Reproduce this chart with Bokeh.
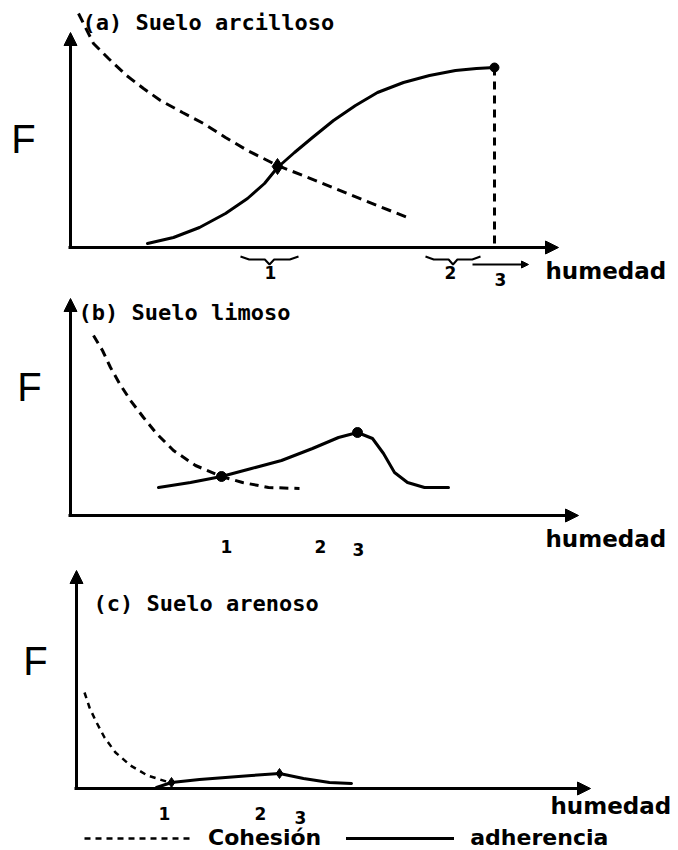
from bokeh.plotting import figure
from bokeh.layouts import column
from bokeh.models import Range1d, Arrow, NormalHead, Legend, LegendItem
from bokeh.core.properties import value
from bokeh.embed import file_html
from bokeh.resources import INLINE

# ---------------- data (humedad, F) in arbitrary units ----------------
# (a) Suelo arcilloso
a_coh_x = [0.2, 0.575, 0.95, 1.4, 1.825, 2.25, 2.8, 3.325, 3.875, 4.425, 5.175, 6.25, 7.35, 8.425]
a_coh_y = [11.7, 10.2, 9.45, 8.6, 7.95, 7.35, 6.75, 6.2, 5.5, 4.85, 4.1, 3.25, 2.35, 1.5]
a_adh_x = [1.925, 2.575, 3.225, 3.875, 4.425, 4.85, 5.175, 5.6, 6.05, 6.575, 7.125, 7.675,
           8.325, 8.975, 9.625, 10.15, 10.6]
a_adh_y = [0.2, 0.5, 1.0, 1.7, 2.45, 3.2, 4.0, 4.75, 5.5, 6.35, 7.1, 7.75,
           8.25, 8.6, 8.85, 8.95, 9.0]
a_cross = (5.175, 4.05)
a_peak = (10.6, 9.0)

# (b) Suelo limoso
b_coh_x = [0.575, 0.8, 1.0, 1.225, 1.5, 1.825, 2.15, 2.575, 3.125, 3.775, 4.3, 4.95, 5.725]
b_coh_y = [9.0, 8.25, 7.4, 6.6, 5.75, 4.9, 4.1, 3.25, 2.5, 1.95, 1.65, 1.4, 1.35]
b_adh_x = [2.2, 3.0, 3.775, 4.525, 5.275, 6.05, 6.7, 7.175, 7.55, 7.825, 8.1, 8.425, 8.85, 9.45]
b_adh_y = [1.4, 1.65, 1.95, 2.35, 2.75, 3.35, 3.9, 4.15, 3.85, 3.1, 2.15, 1.65, 1.4, 1.4]
b_pts_x = [3.775, 7.175]
b_pts_y = [1.95, 4.15]

# (c) Suelo arenoso
c_coh_x = [0.2, 0.325, 0.475, 0.7, 0.975, 1.35, 1.775, 2.325]
c_coh_y = [4.8, 4.05, 3.4, 2.55, 1.8, 1.15, 0.65, 0.3]
c_adh_x = [2.0, 2.375, 3.075, 3.725, 4.375, 5.075, 5.675, 6.325, 6.875]
c_adh_y = [0.05, 0.3, 0.45, 0.55, 0.65, 0.75, 0.5, 0.3, 0.25]
c_pts_x = [2.375, 5.075]
c_pts_y = [0.3, 0.75]

# moisture limits 1, 2, 3 on the humedad axis
a_limits = [5.0, 9.5, 10.75]
b_limits = [3.9, 6.25, 7.2]
c_limits = [2.2, 4.6, 5.6]
limit_labels = ["1", "2", "3"]

titles = ["(a) Suelo arcilloso", "(b) Suelo limoso", "(c) Suelo arenoso"]
x_label = "humedad"
y_label = "F"
legend_labels = ["Cohesión", "adherencia"]

TITLE_FONT = value("DejaVu Sans Mono")
LABEL_FONT = value("DejaVu Sans")


def make_panel(height, xr, yr):
    p = figure(width=678, height=height, x_range=Range1d(*xr), y_range=Range1d(*yr),
               output_backend="svg", toolbar_location=None,
               x_axis_location=None, y_axis_location=None, min_border=0)
    p.grid.visible = False
    p.outline_line_color = None
    p.background_fill_color = "white"
    p.border_fill_color = "white"
    return p


def axes(p, xmax, ymax):
    p.add_layout(Arrow(end=NormalHead(size=13, fill_color="black", line_color="black"),
                       x_start=-0.05, y_start=0, x_end=xmax, y_end=0,
                       line_width=3, line_color="black"))
    p.add_layout(Arrow(end=NormalHead(size=13, fill_color="black", line_color="black"),
                       x_start=0, y_start=-0.05, x_end=0, y_end=ymax,
                       line_width=3, line_color="black"))


def texts(p, title, tx, ty, fx, fy, hx, hy, limits, ly, ly3):
    p.text(x=[tx], y=[ty], text=[title], text_font=TITLE_FONT, text_font_style="bold",
           text_font_size="22px", text_baseline="middle", text_color="black")
    p.text(x=[fx], y=[fy], text=[y_label], text_font=value("Liberation Sans"),
           text_font_size="40px", text_baseline="middle", text_align="center", text_color="black")
    p.text(x=[hx], y=[hy], text=[x_label], text_font=LABEL_FONT, text_font_style="bold",
           text_font_size="23px", text_baseline="middle", text_color="black")
    p.text(x=limits, y=[ly, ly, ly3], text=limit_labels, text_font=LABEL_FONT,
           text_font_style="bold", text_font_size="17px", text_baseline="middle",
           text_align="center", text_color="black")


def brace(p, lo, hi, y):
    w = hi - lo
    mid = (lo + hi) / 2
    xs = [lo, lo + 0.15 * w, mid - 0.08 * w, mid, mid + 0.08 * w, hi - 0.15 * w, hi]
    ys = [y + 0.15, y, y, y - 0.25, y, y, y + 0.15]
    p.line(xs, ys, line_color="black", line_width=2)


SOLID = dict(line_color="black", line_width=3, line_join="round", line_cap="round")

# ---------------- panel (a) ----------------
pa = make_panel(290, (-1.75, 15.2), (-2.15, 12.35))
axes(pa, 12.2, 10.75)
pa.line(a_coh_x, a_coh_y, line_color="black", line_width=3, line_dash="10 6")
pa.line(a_adh_x, a_adh_y, **SOLID)
pa.line([a_peak[0], a_peak[0]], [a_peak[1], 0], line_color="black", line_width=3, line_dash="8 6")
pa.scatter([a_cross[0]], [a_cross[1]], marker="diamond", size=16, color="black")
pa.scatter([a_peak[0]], [a_peak[1]], marker="circle", size=9, color="black")
texts(pa, titles[0], 0.3, 11.25, -1.175, 5.45, 11.875, -1.15, a_limits, -1.25, -1.6)
brace(pa, 4.25, 5.7, -0.6)
brace(pa, 8.875, 10.25, -0.6)
pa.add_layout(Arrow(end=NormalHead(size=7, fill_color="black", line_color="black"),
                    x_start=10.05, y_start=-0.85, x_end=11.45, y_end=-0.85,
                    line_width=2, line_color="black"))

# ---------------- panel (b) ----------------
pb = make_panel(272, (-1.75, 15.2), (-2.35, 11.25))
axes(pb, 12.7, 10.85)
pb.line(b_coh_x, b_coh_y, line_color="black", line_width=3, line_dash="9 6")
pb.line(b_adh_x, b_adh_y, **SOLID)
pb.scatter(b_pts_x, b_pts_y, marker="circle", size=10, color="black")
texts(pb, titles[1], 0.2, 10.15, -1.025, 6.45, 11.875, -1.15, b_limits, -1.55, -1.7)

# ---------------- panel (c) ----------------
pc = make_panel(288, (-1.9, 15.05), (-3.1, 11.3))
axes(pc, 12.85, 10.9)
r_coh = pc.line(c_coh_x, c_coh_y, line_color="black", line_width=2.5, line_dash="6 5")
r_adh = pc.line(c_adh_x, c_adh_y, **SOLID)
pc.scatter(c_pts_x, c_pts_y, marker="diamond", size=10, color="black")
texts(pc, titles[2], 0.425, 9.25, -1.025, 6.4, 11.85, -0.85, c_limits, -1.25, -1.45)

# legend row under the last panel
legend = Legend(items=[LegendItem(label=legend_labels[0], renderers=[r_coh]),
                       LegendItem(label=legend_labels[1], renderers=[r_adh])],
                orientation="horizontal", location=(84, 0),
                glyph_width=108, glyph_height=14, label_height=14, label_standoff=16,
                spacing=25, padding=0, margin=0,
                border_line_color=None, background_fill_alpha=0,
                label_text_font="DejaVu Sans", label_text_font_style="bold",
                label_text_font_size="22px", label_text_color="black")
pc.add_layout(legend, "center")

layout = column(pa, pb, pc, spacing=0)
open("out.html", "w").write(file_html(layout, INLINE))
